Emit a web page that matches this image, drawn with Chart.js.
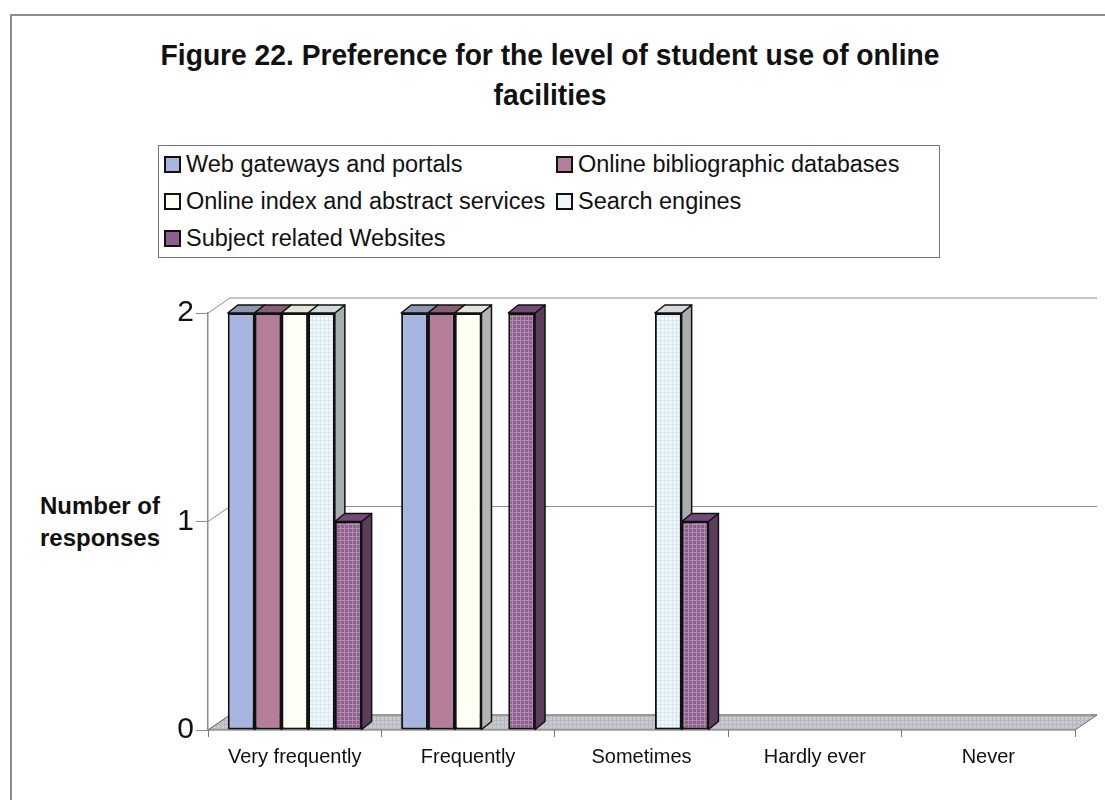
<!DOCTYPE html>
<html>
<head>
<meta charset="utf-8">
<title>Figure 22</title>
<script src="https://cdn.jsdelivr.net/npm/chart.js@4.4.0/dist/chart.umd.min.js"></script>
<style>
  body { margin: 0; background: #fff; font-family: "Liberation Sans", Arial, sans-serif; color: #111; }
  #wrap { position: relative; width: 1105px; height: 800px; overflow: hidden; }
  #frame { position: absolute; left: 10px; top: 14px; width: 1200px; height: 900px;
           border-left: 2px solid #8c8c8c; border-top: 2px solid #8c8c8c; }
  #title { position: absolute; left: 0; top: 35px; width: 1100px; text-align: center;
           font-weight: bold; font-size: 30px; line-height: 40px;
           transform: scaleX(0.94); transform-origin: 550px 0; }
  #legend { position: absolute; left: 158px; top: 145px; width: 780px; height: 111px;
            border: 1px solid #777; }
  #legend .item { position: absolute; height: 30px; line-height: 30px; font-size: 23.5px; white-space: nowrap; }
  #legend .box { display: inline-block; width: 13px; height: 13px; border: 2px solid #111;
                 margin-right: 5px; vertical-align: -1px; }
  #ytitle { position: absolute; left: 20px; top: 490px; width: 160px; text-align: center;
            font-weight: bold; font-size: 24px; line-height: 32px; }
  canvas { position: absolute; left: 0; top: 0; }
</style>
</head>
<body>
<div id="wrap">
  <div id="frame"></div>
  <div id="title">Figure 22. Preference for the level of student use of online<br>facilities</div>
  <div id="legend"></div>
  <div id="ytitle">Number of<br>responses</div>
  <canvas id="chart" width="1105" height="800"></canvas>
</div>
<script>
// data
const categories = ["Very frequently", "Frequently", "Sometimes", "Hardly ever", "Never"];
const seriesNames = [
  "Web gateways and portals",
  "Online bibliographic databases",
  "Online index and abstract services",
  "Search engines",
  "Subject related Websites",
];
const webGateways = [2, 2, 0, 0, 0];
const biblioDatabases = [2, 2, 0, 0, 0];
const indexServices = [2, 2, 0, 0, 0];
const searchEngines = [2, 0, 2, 0, 0];
const subjectWebsites = [1, 2, 1, 0, 0];
const yTicks = [0, 1, 2];

const seriesValues = [webGateways, biblioDatabases, indexServices, searchEngines, subjectWebsites];

// colours of the excel 3d bars (front / top / side)
const frontColors = ["#a8b5e0", "#b47e9a", "#fffff6", "#eef8fc", "#8e5f8e"];
const dotColors = [null, null, null, "#d9e8ef", "#b08ab0"];
const topColors = ["#8e96b5", "#8a5c73", "#e4e4da", "#d3dcdd", "#74497a"];
const sideColors = ["#7d85a3", "#784d63", "#b2b5b2", "#a8aeaf", "#5c3d5c"];

// depth of walls and of bars
const WX = 22, WY = 15;
const BX = 10, BY = 8;

const canvas = document.getElementById("chart");
const ctx = canvas.getContext("2d");

function dotted(base, dot) {
  const c = document.createElement("canvas");
  c.width = 4;
  c.height = 4;
  const g = c.getContext("2d");
  g.fillStyle = base;
  g.fillRect(0, 0, 4, 4);
  g.fillStyle = dot;
  g.fillRect(0, 0, 4, 1);
  g.fillRect(0, 0, 1, 4);
  return ctx.createPattern(c, "repeat");
}

const floorFill = dotted("#c8c8ce", "#b6b6be");

// legend as html
const legend = document.getElementById("legend");
seriesNames.forEach((name, i) => {
  const item = document.createElement("div");
  item.className = "item";
  item.style.left = (i % 2 ? 397 : 5) + "px";
  item.style.top = (3 + Math.floor(i / 2) * 37) + "px";
  item.innerHTML = '<span class="box" style="background:' + frontColors[i] + '"></span>' + name;
  legend.appendChild(item);
});

// walls, floor, tops and sides of the bars
const depth3d = {
  id: "depth3d",
  beforeDatasetsDraw(chart) {
    const { ctx, chartArea: a, scales } = chart;
    const y = scales.y;
    ctx.save();

    ctx.lineWidth = 1;
    ctx.strokeStyle = "#8c8c8c";
    yTicks.forEach((v) => {
      const py = y.getPixelForValue(v);
      ctx.beginPath();
      ctx.moveTo(a.left, py);
      ctx.lineTo(a.left + WX, py - WY);
      ctx.lineTo(a.right + WX, py - WY);
      ctx.stroke();
    });

    ctx.fillStyle = floorFill;
    ctx.strokeStyle = "#6a6a6a";
    ctx.beginPath();
    ctx.moveTo(a.left, a.bottom);
    ctx.lineTo(a.right, a.bottom);
    ctx.lineTo(a.right + WX, a.bottom - WY);
    ctx.lineTo(a.left + WX, a.bottom - WY);
    ctx.closePath();
    ctx.fill();
    ctx.stroke();

    ctx.lineWidth = 1.5;
    ctx.strokeStyle = "#111";
    ctx.lineJoin = "round";
    chart.data.datasets.forEach((ds, i) => {
      chart.getDatasetMeta(i).data.forEach((bar, j) => {
        if (!ds.data[j]) return;
        const x0 = bar.x - bar.width / 2;
        const x1 = bar.x + bar.width / 2;
        const top = bar.y;
        const base = bar.base;

        ctx.fillStyle = sideColors[i];
        ctx.beginPath();
        ctx.moveTo(x1, top);
        ctx.lineTo(x1 + BX, top - BY);
        ctx.lineTo(x1 + BX, base - BY);
        ctx.lineTo(x1, base);
        ctx.closePath();
        ctx.fill();
        ctx.stroke();

        ctx.fillStyle = topColors[i];
        ctx.beginPath();
        ctx.moveTo(x0, top);
        ctx.lineTo(x1, top);
        ctx.lineTo(x1 + BX, top - BY);
        ctx.lineTo(x0 + BX, top - BY);
        ctx.closePath();
        ctx.fill();
        ctx.stroke();
      });
    });
    ctx.restore();
  },
};

Chart.defaults.font.family = "'Liberation Sans', Arial, sans-serif";
Chart.defaults.color = "#111";

new Chart(ctx, {
  type: "bar",
  data: {
    labels: categories,
    datasets: seriesNames.map((name, i) => ({
      label: name,
      data: seriesValues[i],
      backgroundColor: dotColors[i] ? dotted(frontColors[i], dotColors[i]) : frontColors[i],
      borderColor: "#111",
      borderWidth: 2,
      borderSkipped: false,
      categoryPercentage: 0.772,
      barPercentage: 1,
    })),
  },
  options: {
    responsive: false,
    animation: false,
    events: [],
    layout: { padding: { top: 313, right: 30, left: 0, bottom: 0 } },
    plugins: {
      legend: { display: false },
      title: { display: false },
      tooltip: { enabled: false },
    },
    scales: {
      x: {
        afterFit: (scale) => { scale.height = 70; },
        border: { display: false },
        grid: { display: true, drawOnChartArea: false, tickLength: 7, color: "#7a7a7a", offset: true },
        ticks: { font: { size: 20 }, padding: 8, maxRotation: 0 },
      },
      y: {
        min: 0,
        max: 2,
        afterFit: (scale) => { scale.width = 208; },
        border: { display: true, color: "#8c8c8c", width: 1.5 },
        grid: { drawOnChartArea: false, tickLength: 12, color: "#8c8c8c" },
        ticks: { stepSize: 1, font: { size: 30 }, padding: 2 },
      },
    },
  },
  plugins: [depth3d],
});
</script>
</body>
</html>
